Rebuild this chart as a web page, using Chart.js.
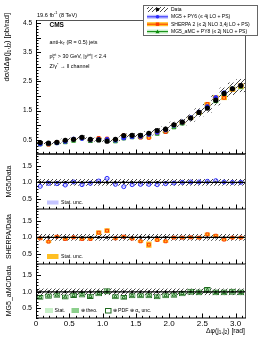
<!DOCTYPE html>
<html>
<head>
<meta charset="utf-8">
<script src="https://cdn.jsdelivr.net/npm/chart.js@4.4.1/dist/chart.umd.min.js"></script>
<style>
  html, body { margin: 0; padding: 0; background: #fff; }
  #wrap { width: 266px; height: 344px; }
</style>
</head>
<body>
<div id="wrap"><canvas id="myChart" width="266" height="344"></canvas></div>
<script>
// bin centres of the delta-phi histogram (25 bins from 0 to pi)
const binCenters = [0.063, 0.188, 0.314, 0.440, 0.565, 0.691, 0.817, 0.942, 1.068, 1.194, 1.319, 1.445, 1.571,
                    1.696, 1.822, 1.948, 2.073, 2.199, 2.325, 2.450, 2.576, 2.702, 2.827, 2.953, 3.079];
// measured cross section [pb/rad]
const dataXsec = [0.41, 0.39, 0.42, 0.49, 0.52, 0.59, 0.52, 0.50, 0.46, 0.52, 0.65, 0.66, 0.66,
                  0.73, 0.82, 0.87, 1.02, 1.11, 1.25, 1.44, 1.59, 1.86, 2.09, 2.25, 2.36];
const dataUnc = [0.09, 0.09, 0.09, 0.09, 0.09, 0.09, 0.09, 0.09, 0.09, 0.09, 0.09, 0.09, 0.09,
                 0.09, 0.09, 0.09, 0.09, 0.09, 0.09, 0.09, 0.09, 0.09, 0.09, 0.09, 0.09];
const dataStat = [0.03, 0.03, 0.03, 0.03, 0.03, 0.03, 0.03, 0.03, 0.03, 0.03, 0.03, 0.03, 0.03,
                  0.03, 0.03, 0.03, 0.02, 0.02, 0.02, 0.02, 0.02, 0.02, 0.02, 0.02, 0.02];
// predictions, main panel
const mg5Xsec = [0.36, 0.38, 0.40, 0.45, 0.53, 0.55, 0.50, 0.52, 0.52, 0.49, 0.57, 0.61, 0.62,
                 0.69, 0.76, 0.84, 1.00, 1.11, 1.26, 1.45, 1.64, 1.95, 2.11, 2.25, 2.36];
const sherpaXsec = [0.40, 0.34, 0.43, 0.47, 0.52, 0.56, 0.49, 0.57, 0.55, 0.50, 0.66, 0.63, 0.58,
                    0.57, 0.75, 0.77, 1.01, 1.10, 1.25, 1.43, 1.73, 1.95, 1.94, 2.23, 2.34];
const amcXsec = [0.34, 0.34, 0.38, 0.41, 0.46, 0.54, 0.45, 0.48, 0.47, 0.44, 0.54, 0.58, 0.58,
                 0.64, 0.70, 0.77, 0.92, 1.05, 1.25, 1.41, 1.67, 1.82, 2.05, 2.25, 2.31];
// ratios to data
const mg5Ratio = [0.88, 0.97, 0.96, 0.92, 1.01, 0.93, 0.97, 1.04, 1.12, 0.94, 0.87, 0.93, 0.94,
                  0.94, 0.93, 0.96, 0.98, 1.00, 1.01, 1.01, 1.03, 1.05, 1.01, 1.00, 1.00];
const sherpaRatio = [0.97, 0.87, 1.02, 0.95, 1.00, 0.95, 0.95, 1.14, 1.20, 0.97, 1.02, 0.96, 0.88,
                     0.78, 0.92, 0.88, 0.99, 0.99, 1.00, 0.99, 1.09, 1.05, 0.93, 0.99, 0.99];
const sherpaStat = [0.04, 0.05, 0.04, 0.04, 0.04, 0.04, 0.04, 0.06, 0.06, 0.04, 0.04, 0.04, 0.05,
                    0.12, 0.05, 0.05, 0.04, 0.04, 0.04, 0.04, 0.05, 0.04, 0.04, 0.04, 0.04];
const amcRatio = [0.83, 0.87, 0.90, 0.84, 0.89, 0.91, 0.86, 0.95, 1.02, 0.85, 0.83, 0.88, 0.88,
                  0.88, 0.85, 0.88, 0.90, 0.95, 1.00, 0.98, 1.05, 0.98, 0.98, 1.00, 0.98];
const xTicks = [0, 0.5, 1, 1.5, 2, 2.5, 3];

const FONT = '"Liberation Sans", Arial, sans-serif';
const BLUE = '#2b2bff', BLUE_BAND = '#c4c4ff';
const RED = '#ff3a00', ORANGE = '#ffbf22';
const GREEN = '#0a8a0a', GREEN_LIGHT = '#c8f0c8', GREEN_MID = '#8ccf8c', GREEN_DARK = '#1f6b1f';

document.addEventListener('DOMContentLoaded', function () {
    const canvas = document.getElementById('myChart');
    const c2d = canvas.getContext('2d');

    // diagonal hatch pattern for the data uncertainty
    const tile = document.createElement('canvas');
    tile.width = 4; tile.height = 4;
    const t = tile.getContext('2d');
    t.strokeStyle = '#333'; t.lineWidth = 0.9;
    t.beginPath();
    t.moveTo(0, 4); t.lineTo(4, 0);
    t.moveTo(-1, 1); t.lineTo(1, -1);
    t.moveTo(3, 5); t.lineTo(5, 3);
    t.stroke();
    const hatch = c2d.createPattern(tile, 'repeat');

    const pts = vals => binCenters.map((x, i) => ({x: x, y: vals[i]}));
    const band = (vals, rel) => binCenters.map((x, i) => ({x: x, y: [vals[i] * (1 - rel[i]), vals[i] * (1 + rel[i])]}));
    const flat = v => binCenters.map(() => v);
    const unit = flat(1);

    const barBase = {type: 'bar', grouped: false, categoryPercentage: 1, borderSkipped: false};

    const datasets = [
        // main panel
        Object.assign({}, barBase, {yAxisID: 'y', data: band(dataXsec, dataUnc), backgroundColor: hatch, barPercentage: 1, order: 30}),
        Object.assign({}, barBase, {yAxisID: 'y', data: band(sherpaXsec, flat(0.04)), backgroundColor: ORANGE, barPercentage: 0.7, order: 20}),
        Object.assign({}, barBase, {yAxisID: 'y', data: band(amcXsec, flat(0.04)), backgroundColor: GREEN_LIGHT, barPercentage: 0.7, order: 20}),
        Object.assign({}, barBase, {yAxisID: 'y', data: band(mg5Xsec, flat(0.03)), backgroundColor: BLUE_BAND, barPercentage: 0.7, order: 20}),
        {type: 'scatter', yAxisID: 'y', data: pts(amcXsec), pointStyle: 'triangle', pointRadius: 2.2, borderColor: GREEN, backgroundColor: GREEN_LIGHT, borderWidth: 1, order: 10},
        {type: 'scatter', yAxisID: 'y', data: pts(sherpaXsec), pointStyle: 'rect', pointRadius: 2, borderColor: RED, backgroundColor: ORANGE, borderWidth: 1, order: 9},
        {type: 'scatter', yAxisID: 'y', data: pts(mg5Xsec), pointStyle: 'circle', pointRadius: 2, borderColor: BLUE, backgroundColor: BLUE, borderWidth: 1, order: 8},
        Object.assign({}, barBase, {yAxisID: 'y', data: band(dataXsec, dataStat), backgroundColor: '#000', barThickness: 1, order: 2}),
        {type: 'scatter', yAxisID: 'y', data: pts(dataXsec), pointStyle: 'circle', pointRadius: 2.6, borderColor: '#000', backgroundColor: '#000', borderWidth: 0, order: 1},

        // MG5 / data
        Object.assign({}, barBase, {yAxisID: 'r1', data: band(unit, dataUnc), backgroundColor: hatch, barPercentage: 1, order: 30}),
        Object.assign({}, barBase, {yAxisID: 'r1', data: band(mg5Ratio, flat(0.025)), backgroundColor: BLUE_BAND, barPercentage: 0.6, order: 20}),
        Object.assign({}, barBase, {yAxisID: 'r1', data: band(unit, dataStat), backgroundColor: '#000', barThickness: 1, order: 5}),
        {type: 'scatter', yAxisID: 'r1', data: pts(mg5Ratio), pointStyle: 'circle', pointRadius: 2, borderColor: BLUE, backgroundColor: 'rgba(255,255,255,0)', borderWidth: 1, order: 3},

        // SHERPA / data
        Object.assign({}, barBase, {yAxisID: 'r2', data: band(unit, dataUnc), backgroundColor: hatch, barPercentage: 1, order: 30}),
        Object.assign({}, barBase, {yAxisID: 'r2', data: band(sherpaRatio, sherpaStat), backgroundColor: ORANGE, barPercentage: 0.65, order: 20}),
        Object.assign({}, barBase, {yAxisID: 'r2', data: band(unit, dataStat), backgroundColor: '#000', barThickness: 1, order: 5}),
        {type: 'scatter', yAxisID: 'r2', data: pts(sherpaRatio), pointStyle: 'rect', pointRadius: 2, borderColor: RED, backgroundColor: 'rgba(255,255,255,0)', borderWidth: 1, order: 3},

        // MG5_aMC / data
        Object.assign({}, barBase, {yAxisID: 'r3', data: band(unit, dataUnc), backgroundColor: hatch, barPercentage: 1, order: 30}),
        Object.assign({}, barBase, {yAxisID: 'r3', data: band(amcRatio, flat(0.09)), backgroundColor: GREEN_MID, borderColor: GREEN_DARK, borderWidth: 1, barPercentage: 0.8, order: 21}),
        Object.assign({}, barBase, {yAxisID: 'r3', data: band(amcRatio, flat(0.035)), backgroundColor: GREEN_LIGHT, barPercentage: 0.55, order: 20}),
        Object.assign({}, barBase, {yAxisID: 'r3', data: band(unit, dataStat), backgroundColor: '#000', barThickness: 1, order: 5}),
        {type: 'scatter', yAxisID: 'r3', data: pts(amcRatio), pointStyle: 'triangle', pointRadius: 2, borderColor: GREEN_DARK, backgroundColor: 'rgba(255,255,255,0)', borderWidth: 1, order: 3}
    ];

    function drawRich(ctx, parts, x, y, size, align) {
        const small = size * 0.68;
        const widthOf = p => {
            if (p[1] === 'subsup') {
                ctx.font = small + 'px ' + FONT;
                return Math.max(ctx.measureText(p[0]).width, ctx.measureText(p[2]).width);
            }
            ctx.font = (p[1] === 'n' ? size : small) + 'px ' + FONT;
            return ctx.measureText(p[0]).width;
        };
        const total = parts.reduce((s, p) => s + widthOf(p), 0);
        let cx = align === 'right' ? x - total : align === 'center' ? x - total / 2 : x;
        ctx.textAlign = 'left';
        ctx.textBaseline = 'middle';
        for (const p of parts) {
            const w = widthOf(p);
            if (p[1] === 'n') {
                ctx.font = size + 'px ' + FONT;
                ctx.fillText(p[0], cx, y);
            } else if (p[1] === 'sub') {
                ctx.font = small + 'px ' + FONT;
                ctx.fillText(p[0], cx, y + size * 0.32);
            } else if (p[1] === 'sup') {
                ctx.font = small + 'px ' + FONT;
                ctx.fillText(p[0], cx, y - size * 0.4);
            } else {
                ctx.font = small + 'px ' + FONT;
                ctx.fillText(p[0], cx, y + size * 0.32);
                ctx.fillText(p[2], cx, y - size * 0.4);
            }
            cx += w;
        }
    }

    function line(ctx, x1, y1, x2, y2) {
        ctx.beginPath(); ctx.moveTo(x1, y1); ctx.lineTo(x2, y2); ctx.stroke();
    }

    const decorations = {
        id: 'decorations',
        afterDatasetsDraw(chart) {
            const ctx = chart.ctx, ca = chart.chartArea, xs = chart.scales.x;
            ctx.save();
            ['y', 'r1', 'r2', 'r3'].forEach(function (id) {
                const s = chart.scales[id];
                if (id !== 'y') {
                    ctx.strokeStyle = '#000'; ctx.lineWidth = 1.2;
                    const y1 = s.getPixelForValue(1);
                    line(ctx, ca.left, y1, ca.right, y1);
                }
                ctx.strokeStyle = '#000'; ctx.lineWidth = 1;
                // y ticks, inward
                for (let k = Math.ceil(s.min * 10); k <= Math.floor(s.max * 10); k++) {
                    const yy = Math.round(s.getPixelForValue(k / 10)) + 0.5;
                    const len = k % 5 === 0 ? 5 : 2.5;
                    line(ctx, ca.left, yy, ca.left + len, yy);
                }
                // x ticks on the bottom edge of each panel
                for (let k = 0; k <= Math.floor(xs.max * 10); k++) {
                    const xx = Math.round(xs.getPixelForValue(k / 10)) + 0.5;
                    const len = k % 5 === 0 ? 4.5 : 2.2;
                    line(ctx, xx, s.bottom, xx, s.bottom - len);
                }
                // frame
                ctx.strokeStyle = '#555'; ctx.lineWidth = 1;
                line(ctx, ca.right + 0.5, s.top, ca.right + 0.5, s.bottom);
                ctx.strokeStyle = '#000'; ctx.lineWidth = id === 'y' ? 1.6 : 1;
                line(ctx, ca.left, s.bottom, ca.right + 1, s.bottom);
            });
            ctx.strokeStyle = '#555'; ctx.lineWidth = 1;
            line(ctx, ca.left, ca.top + 0.5, ca.right + 1, ca.top + 0.5);
            ctx.strokeStyle = '#000'; ctx.lineWidth = 1;
            line(ctx, ca.left + 0.5, ca.top, ca.left + 0.5, ca.bottom);

            ctx.fillStyle = '#000';
            // headline and labels
            drawRich(ctx, [['19.6 fb', 'n'], ['-1', 'sup'], [' (8 TeV)', 'n']], 37, 15, 5.6, 'left');
            ctx.font = 'bold 6.5px ' + FONT; ctx.textAlign = 'left'; ctx.textBaseline = 'middle';
            ctx.fillText('CMS', 49.5, 25);
            drawRich(ctx, [['anti-k', 'n'], ['T', 'sub'], [' (R = 0.5) jets', 'n']], 49.5, 42.5, 5.4, 'left');
            drawRich(ctx, [['p', 'n'], ['T', 'subsup', 'jet'], [' > 30 GeV, |y', 'n'], ['jet', 'sup'], ['| < 2.4', 'n']], 49.5, 57, 5.4, 'left');
            drawRich(ctx, [['Z/\u03b3', 'n'], ['*', 'sup'], [' \u2192 ll channel', 'n']], 49.5, 67, 5.4, 'left');

            // axis titles
            drawRich(ctx, [['\u0394\u03c6(j', 'n'], ['1', 'sub'], [',j', 'n'], ['2', 'sub'], [') [rad]', 'n']], ca.right, 331, 6.8, 'right');
            const vTitle = function (parts, x, y, align, size) {
                ctx.save(); ctx.translate(x, y); ctx.rotate(-Math.PI / 2);
                drawRich(ctx, parts, 0, 0, size, align);
                ctx.restore();
            };
            vTitle([['d\u03c3/d\u0394\u03c6(j', 'n'], ['1', 'sub'], [',j', 'n'], ['2', 'sub'], [') [pb/rad]', 'n']], 7, 13, 'right', 7.5);
            vTitle([['MG5/Data', 'n']], 9.5, (chart.scales.r1.top + chart.scales.r1.bottom) / 2, 'center', 7);
            vTitle([['SHERPA/Data', 'n']], 9.5, (chart.scales.r2.top + chart.scales.r2.bottom) / 2, 'center', 7);
            vTitle([['MG5_aMC/Data', 'n']], 9.5, (chart.scales.r3.top + chart.scales.r3.bottom) / 2, 'center', 7);

            // ratio panel keys
            ctx.fillStyle = BLUE_BAND; ctx.fillRect(47, 200.5, 11.5, 4);
            ctx.fillStyle = '#000'; drawRich(ctx, [['Stat. unc.', 'n']], 61, 202.5, 5.2, 'left');
            ctx.fillStyle = ORANGE; ctx.fillRect(47, 254, 11.5, 5);
            ctx.fillStyle = '#000'; drawRich(ctx, [['Stat. unc.', 'n']], 61, 256.5, 5.2, 'left');
            ctx.fillStyle = GREEN_LIGHT; ctx.fillRect(45, 308, 8, 5);
            ctx.fillStyle = GREEN_MID; ctx.fillRect(71.5, 308, 7.5, 5);
            ctx.strokeStyle = GREEN_DARK; ctx.lineWidth = 1; ctx.strokeRect(105.5, 308.5, 5.5, 4.5);
            ctx.fillStyle = '#000';
            drawRich(ctx, [['Stat.', 'n']], 54.5, 310.5, 5.2, 'left');
            drawRich(ctx, [['\u2295 theo.', 'n']], 80.5, 310.5, 5.2, 'left');
            drawRich(ctx, [['\u2295 PDF \u2295 \u03b1', 'n'], ['s', 'sub'], [' unc.', 'n']], 112.5, 310.5, 5.2, 'left');

            // legend box
            ctx.fillStyle = '#fff'; ctx.fillRect(143, 5, 115, 31);
            ctx.strokeStyle = '#666'; ctx.lineWidth = 1; ctx.strokeRect(143.5, 5.5, 114, 30);
            const rows = [
                {y: 9.5, text: 'Data'},
                {y: 16.8, text: 'MG5 + PY6 (\u2264 4j LO + PS)'},
                {y: 24.2, text: 'SHERPA 2 (\u2264 2j NLO 3,4j LO + PS)'},
                {y: 31.6, text: 'MG5_aMC + PY8 (\u2264 2j NLO + PS)'}
            ];
            // data icon
            ctx.fillStyle = hatch; ctx.fillRect(147, rows[0].y - 2.5, 21, 5);
            ctx.fillStyle = '#000'; ctx.beginPath(); ctx.arc(157.5, rows[0].y, 1.8, 0, 2 * Math.PI); ctx.fill();
            // model icons
            const icon = function (y, bandCol, lineCol, marker) {
                ctx.fillStyle = bandCol; ctx.fillRect(147, y - 2, 21, 4);
                ctx.strokeStyle = lineCol; ctx.lineWidth = 1; line(ctx, 147, y, 168, y);
                ctx.fillStyle = lineCol; ctx.beginPath();
                if (marker === 'circle') ctx.arc(157.5, y, 1.8, 0, 2 * Math.PI);
                else if (marker === 'rect') ctx.rect(155.8, y - 1.7, 3.4, 3.4);
                else { ctx.moveTo(157.5, y - 2.2); ctx.lineTo(159.5, y + 1.6); ctx.lineTo(155.5, y + 1.6); ctx.closePath(); }
                ctx.fill();
            };
            icon(rows[1].y, BLUE_BAND, BLUE, 'circle');
            icon(rows[2].y, ORANGE, RED, 'rect');
            icon(rows[3].y, GREEN_LIGHT, GREEN, 'triangle');
            ctx.fillStyle = '#000';
            rows.forEach(r => drawRich(ctx, [[r.text, 'n']], 171, r.y, 5, 'left'));
            ctx.restore();
        }
    };

    const yScale = function (min, max, weight, size) {
        return {
            type: 'linear', position: 'left', stack: 'panels', stackWeight: weight,
            min: min, max: max, offset: false,
            grid: {display: false, drawTicks: false}, border: {display: false},
            ticks: {stepSize: 0.5, includeBounds: false, padding: 4, color: '#000', font: {family: FONT, size: size}},
            afterFit: function (s) { s.width = 36; }
        };
    };

    const config = {
        type: 'bar',
        data: {datasets: datasets},
        options: {
            responsive: false,
            animation: false,
            devicePixelRatio: 1,
            layout: {padding: {top: 20, right: 21, left: 0, bottom: 0}},
            plugins: {legend: {display: false}, tooltip: {enabled: false}, title: {display: false}},
            scales: {
                r3: yScale(0.2, 1.85, 54, 7),
                r2: yScale(0.2, 1.85, 55, 7),
                r1: yScale(0.2, 1.85, 55, 7),
                y: yScale(0.02, 4.6, 134, 6.5),
                x: {
                    type: 'linear', position: 'bottom', min: 0, max: Math.PI, offset: false,
                    grid: {display: false, drawTicks: false}, border: {display: false},
                    afterBuildTicks: function (s) { s.ticks = xTicks.map(v => ({value: v})); },
                    ticks: {padding: 1, color: '#000', font: {family: FONT, size: 8}, maxRotation: 0, autoSkip: false},
                    afterFit: function (s) { s.height = 26; }
                }
            }
        },
        plugins: [decorations]
    };

    new Chart(canvas, config);
});
</script>
</body>
</html>
